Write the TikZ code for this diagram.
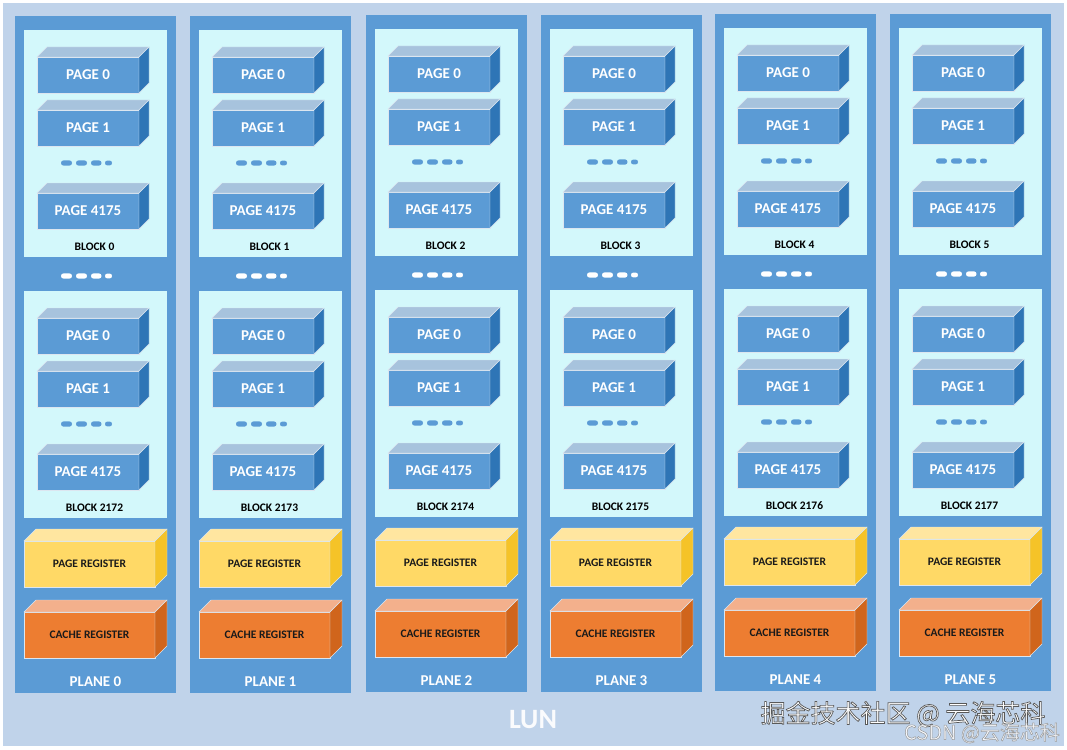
\documentclass[tikz,border=0pt]{standalone}
\usepackage{fontspec}
\setmainfont{Carlito}
\newfontfamily\cjkfont{Noto Sans CJK SC}
\usetikzlibrary{calc}
\definecolor{bgblue}{HTML}{C0D3EA}
\definecolor{planeblue}{HTML}{5B9BD5}
\definecolor{blkcyan}{HTML}{D3F8FB}
\definecolor{pgfront}{HTML}{5B9BD5}
\definecolor{pgtop}{HTML}{A7C3DD}
\definecolor{pgside}{HTML}{2E75B6}
\definecolor{prfront}{HTML}{FFD966}
\definecolor{prtop}{HTML}{FFE6A0}
\definecolor{prside}{HTML}{F5C328}
\definecolor{crfront}{HTML}{ED7D31}
\definecolor{crtop}{HTML}{F3B08C}
\definecolor{crside}{HTML}{D0651C}
\definecolor{edgecol}{HTML}{DCE6F0}
\definecolor{lblblack}{HTML}{1A1A1A}
\tikzset{
  planebox/.style={fill=planeblue, anchor=north west, minimum width=161pt, minimum height=677pt, inner sep=0pt, outer sep=0pt},
  blockbox/.style={fill=blkcyan, anchor=north west, minimum width=143pt, minimum height=227pt, inner sep=0pt, outer sep=0pt},
  cubeface/.style={draw=edgecol, line width=0.4pt},
  pagecube/.style={cubeface, fill=pgfront, anchor=north west, minimum width=102pt, minimum height=36pt, inner sep=0pt, outer sep=0pt, text=white, font=\fontsize{15}{15}\selectfont\bfseries},
  pregcube/.style={cubeface, fill=prfront, anchor=north west, minimum width=131pt, minimum height=46pt, inner sep=0pt, outer sep=0pt, text=lblblack, font=\fontsize{11.5}{11.5}\selectfont\bfseries},
  cregcube/.style={cubeface, fill=crfront, anchor=north west, minimum width=131pt, minimum height=46pt, inner sep=0pt, outer sep=0pt, text=lblblack, font=\fontsize{11.5}{11.5}\selectfont\bfseries},
  blklabel/.style={text=black, font=\fontsize{11.5}{11.5}\selectfont\bfseries, inner sep=0pt},
  planelabel/.style={text=white, font=\fontsize{15}{15}\selectfont\bfseries, inner sep=0pt},
  lunlabel/.style={text=white!92!bgblue, font=\fontsize{28}{28}\selectfont\bfseries, inner sep=0pt},
  wmark/.style={inner sep=0pt, text=white, font=\cjkfont\fontsize{25}{25}\selectfont},
  wmarksmall/.style={inner sep=0pt, text=white!85!bgblue, font=\cjkfont\fontsize{20}{20}\selectfont},
}
\newcommand\outlinetext[3]{% stroke gray, width, text
  \special{pdf:literal direct 2 Tr #2 w #1 G}#3\special{pdf:literal direct 0 Tr}}
\newcommand\cubefaces[4]{%
  \filldraw[cubeface, fill=#3] (#1.north west) -- ($(#1.north west)+(#2,-#2)$) -- ($(#1.north east)+(#2,-#2)$) -- (#1.north east) -- cycle;
  \filldraw[cubeface, fill=#4] (#1.north east) -- ($(#1.north east)+(#2,-#2)$) -- ($(#1.south east)+(#2,-#2)$) -- (#1.south east) -- cycle;
}
\newcommand\fourdots[3]{%
  \fill[#3, rounded corners=2.5pt] (#1+46,#2-2.6) rectangle ++(11,5.2);
  \fill[#3, rounded corners=2.5pt] (#1+61,#2-2.6) rectangle ++(11,5.2);
  \fill[#3, rounded corners=2.5pt] (#1+76,#2-2.6) rectangle ++(10.5,5.2);
  \fill[#3, rounded corners=2.3pt] (#1+90,#2-2.4) rectangle ++(7,4.8);
}
\begin{document}
\begin{tikzpicture}[x=1pt,y=-1pt]
\useasboundingbox (0,0) rectangle (1067,749);
\fill[white] (0,0) rectangle (1067,749);
\node[fill=bgblue, anchor=north west, minimum width=1061pt, minimum height=743pt, inner sep=0pt, outer sep=0pt] (lunbox) at (3,3) {};
\foreach \i/\px/\dy in {0/15/0,1/190/0,2/366/-1,3/541/-1,4/715/-2,5/890/-2}{
  \pgfmathtruncatemacro\bn{2172+\i}
  \node[planebox] (plane\i) at (\px,16+\dy) {};
  \node[blockbox] (blkA\i) at (\px+8.5,30+\dy) {};
  \node[blockbox] (blkB\i) at (\px+8.5,291+\dy) {};
  % block A
  \node[pagecube] (pA0\i) at (\px+22,57+\dy) {PAGE 0};
  \cubefaces{pA0\i}{10}{pgtop}{pgside}
  \node[pagecube] (pA1\i) at (\px+22,110+\dy) {PAGE 1};
  \cubefaces{pA1\i}{10}{pgtop}{pgside}
  \fourdots{\px}{163+\dy}{planeblue}
  \node[pagecube] (pAn\i) at (\px+22,193+\dy) {PAGE 4175};
  \cubefaces{pAn\i}{10}{pgtop}{pgside}
  \node[blklabel] (lblA\i) at (\px+79.5,247+\dy) {BLOCK \i};
  % dots between blocks
  \fourdots{\px}{276+\dy}{white}
  % block B
  \node[pagecube] (pB0\i) at (\px+22,318+\dy) {PAGE 0};
  \cubefaces{pB0\i}{10}{pgtop}{pgside}
  \node[pagecube] (pB1\i) at (\px+22,371+\dy) {PAGE 1};
  \cubefaces{pB1\i}{10}{pgtop}{pgside}
  \fourdots{\px}{424+\dy}{planeblue}
  \node[pagecube] (pBn\i) at (\px+22,454+\dy) {PAGE 4175};
  \cubefaces{pBn\i}{10}{pgtop}{pgside}
  \node[blklabel] (lblB\i) at (\px+79.5,508+\dy) {BLOCK \bn};
  % registers
  \node[pregcube] (preg\i) at (\px+9,541+\dy) {PAGE REGISTER};
  \cubefaces{preg\i}{12}{prtop}{prside}
  \node[cregcube] (creg\i) at (\px+9,612+\dy) {CACHE REGISTER};
  \cubefaces{creg\i}{12}{crtop}{crside}
  \node[planelabel] (plbl\i) at (\px+80.5,682+\dy) {PLANE \i};
}
\node[lunlabel] (lun) at (533,720) {LUN};
\node[wmark] (wm1) at (903,714) {\outlinetext{0.35}{0.7}{掘金技术社区 @ 云海芯科}};
\node[wmarksmall] (wm2) at (982,733) {\outlinetext{0.6}{0.5}{CSDN @云海芯科}};
\end{tikzpicture}
\end{document}
